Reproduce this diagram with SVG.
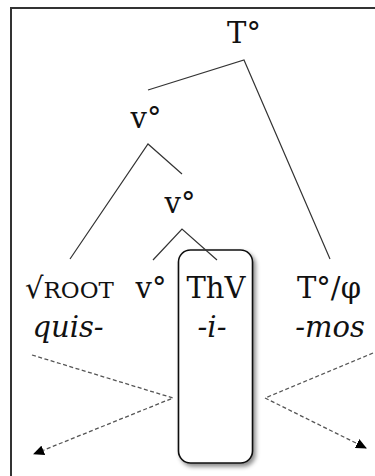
<svg xmlns="http://www.w3.org/2000/svg" width="375" height="476" viewBox="0 0 375 476">
<style>
text{font-family:'DejaVu Serif',serif;font-size:29px;fill:#111}
.it{font-style:italic}
.br{stroke:#333;stroke-width:1.2;fill:none}
.dash{stroke:#555;stroke-width:1.3;fill:none;stroke-dasharray:4 2.5}
</style>
<defs>
<marker id="ah" markerWidth="12" markerHeight="10" refX="10" refY="5" orient="auto" markerUnits="userSpaceOnUse">
<path d="M0,0 L11,5 L0,10 Z" fill="#000"/>
</marker>
<filter id="sh" x="-20%" y="-10%" width="150%" height="130%">
<feDropShadow dx="2.5" dy="3" stdDeviation="2" flood-color="#000" flood-opacity="0.45"/>
</filter>
</defs>
<rect width="375" height="476" fill="#fff"/>
<path d="M11,476 V8 H375" stroke="#333" stroke-width="2" fill="none"/>
<g id="box"><rect x="178.5" y="250" width="74" height="213" rx="12" fill="#fff" stroke="#111" stroke-width="1.6" filter="url(#sh)"/></g>
<g id="connectors">
<path class="br" d="M148,90 L244,60 L330,259"/>
<path class="br" d="M70,259 L148,144 L182,174"/>
<path class="br" d="M153,260 L182,229 L217,260"/>
<path class="dash" d="M32,355 L173,398 L34,454" marker-end="url(#ah)"/>
<path class="dash" d="M373,353 L265,398 L366,448" marker-end="url(#ah)"/>
</g>
<g id="T"><text x="244" y="43" text-anchor="middle">T°</text></g>
<g id="v1"><text x="146" y="128" text-anchor="middle">v°</text></g>
<g id="v2"><text x="180" y="213" text-anchor="middle">v°</text></g>
<g id="root"><text x="25" y="298">√<tspan font-size="23">ROOT</tspan></text>
<text class="it" x="68" y="337" text-anchor="middle">quis-</text></g>
<g id="v3"><text x="151" y="298" text-anchor="middle">v°</text></g>
<g id="thv"><text x="216" y="298" text-anchor="middle">ThV</text>
<text class="it" x="212" y="337" text-anchor="middle">-i-</text></g>
<g id="tphi"><text x="329" y="298" text-anchor="middle">T°/φ</text>
<text class="it" x="330" y="337" text-anchor="middle">-mos</text></g>
</svg>
